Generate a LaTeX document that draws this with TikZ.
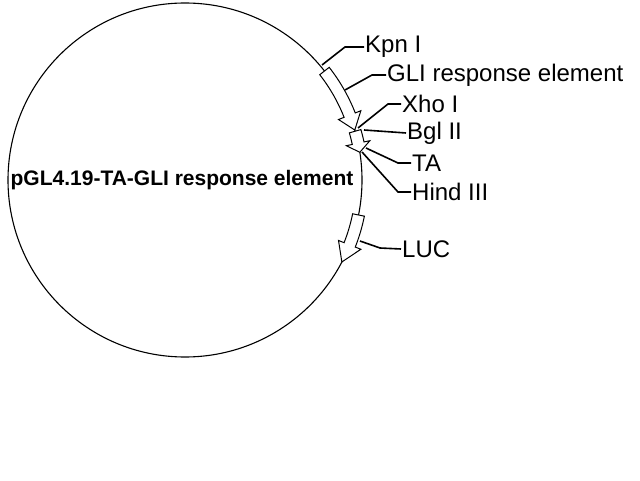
\documentclass[tikz,border=0pt]{standalone}
\usepackage{fontspec}
\setmainfont{Liberation Sans}
\begin{document}
\begin{tikzpicture}
        [x=1pt, y=1pt,
        featlabel/.style={anchor=west, inner sep=1pt, font=\fontsize{24}{26}\selectfont},
        leader/.style={line width=1.6pt},]

        \useasboundingbox (0,0) rectangle (640,480);
        \coordinate (c) at (185,300);
        \draw[line width=1.1pt] (c) circle (177);

        % feature arrows on the plasmid
        \newcommand{\featarrow}[3]{%
            \draw[line width=1pt, fill=white] ([shift={(#1:183)}]c) arc (#1:#2:183)
                -- ([shift={(#2:189)}]c) -- ([shift={(#3:177)}]c) -- ([shift={(#2:165)}]c)
                -- ([shift={(#2:171)}]c) arc (#2:#1:171) -- cycle;}
        \featarrow{38}{21.5}{16.4}
        \featarrow{16}{12}{9}
        \featarrow{-11.4}{-21.5}{-27.6}

        \node[font=\fontsize{21}{23}\selectfont\bfseries] (name) at (182,300) {pGL4.19-TA-GLI response element};

        \node[featlabel] (kpn) at (364,433) {Kpn I};
        \node[featlabel] (gli) at (386,405) {GLI response element};
        \node[featlabel] (xho) at (401,376) {Xho I};
        \node[featlabel] (bgl) at (406,347) {Bgl II};
        \node[featlabel] (ta) at (411,317) {TA};
        \node[featlabel] (hind) at (411,288) {Hind III};
        \node[featlabel] (luc) at (401,231) {LUC};

        \draw[leader] (322,415) -- (345,433) -- (kpn.west);
        \draw[leader] (345,390) -- (372,405) -- (gli.west);
        \draw[leader] (358,352) -- (388,376) -- (xho.west);
        \draw[leader] (364,350) -- (bgl.west);
        \draw[leader] (366,332) -- (398,317) -- (ta.west);
        \draw[leader] (362,328) -- (398,288) -- (hind.west);
        \draw[leader] (360,239) -- (380,232) -- (luc.west);

    \end{tikzpicture}
\end{document}
